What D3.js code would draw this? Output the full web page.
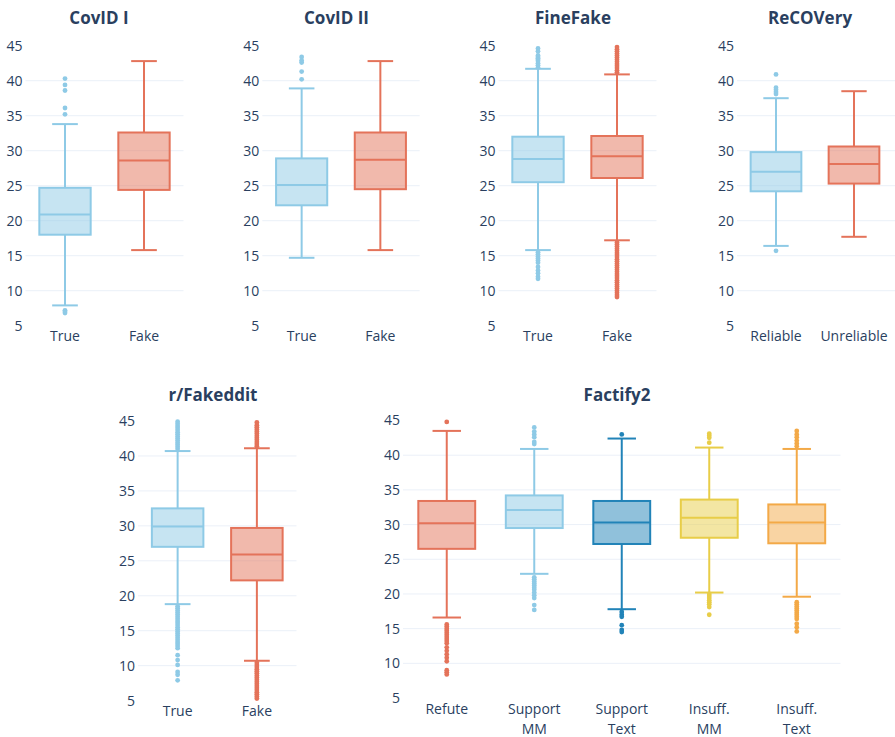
<!DOCTYPE html>
<html>
<head>
<meta charset="utf-8">
<script src="https://cdn.jsdelivr.net/npm/d3@7"></script>
<style>
  body { margin: 0; background: #fff; }
  svg { display: block; font-family: "Open Sans", sans-serif; }
</style>
</head>
<body>
<svg id="chart"></svg>
<script>
// tick labels for every y axis
const yTicks = [5, 10, 15, 20, 25, 30, 35, 40, 45];

// box stats: [lower whisker, q1, median, q3, upper whisker]
const covid1Cats = ["True", "Fake"];
const covid1Stats = [[7.9, 18.0, 20.9, 24.7, 33.8], [15.8, 24.4, 28.6, 32.6, 42.8]];
const covid1Outliers = [[35.2, 36.1, 38.6, 39.4, 40.3, 7.2, 7.0, 6.8], []];

const covid2Cats = ["True", "Fake"];
const covid2Stats = [[14.7, 22.2, 25.1, 28.9, 38.9], [15.8, 24.5, 28.7, 32.6, 42.8]];
const covid2Outliers = [[40.2, 41.3, 42.6, 42.9, 43.4], []];

const fineCats = ["True", "Fake"];
const fineStats = [[15.8, 25.5, 28.8, 32.0, 41.7], [17.2, 26.1, 29.2, 32.1, 40.9]];
const fineOutliers = [
  [41.9, 42.2, 42.5, 42.8, 43.0, 43.2, 43.4, 43.6, 44.2, 44.6,
   15.5, 15.2, 14.9, 14.6, 14.3, 14.0, 13.4, 12.9, 12.5, 12.0, 11.7],
  [41.2, 41.5, 41.8, 42.1, 42.4, 42.7, 43.0, 43.3, 43.6, 43.9, 44.2, 44.5, 44.8,
   16.9, 16.6, 16.3, 16.0, 15.7, 15.4, 15.1, 14.8, 14.5, 14.2, 13.9, 13.6, 13.3,
   13.0, 12.7, 12.4, 12.1, 11.8, 11.5, 11.2, 10.9, 10.6, 10.3, 10.0, 9.7, 9.4, 9.1]
];

const recoCats = ["Reliable", "Unreliable"];
const recoStats = [[16.4, 24.2, 27.0, 29.8, 37.5], [17.7, 25.3, 28.1, 30.6, 38.5]];
const recoOutliers = [[38.1, 38.4, 38.7, 39.0, 40.9, 15.7], []];

const fakedditCats = ["True", "Fake"];
const fakedditStats = [[18.8, 27.0, 29.9, 32.5, 40.7], [10.7, 22.2, 25.9, 29.7, 41.1]];
const fakedditOutliers = [
  [41.0, 41.3, 41.6, 41.9, 42.2, 42.5, 42.8, 43.1, 43.4, 43.7, 44.0, 44.3, 44.6, 44.9,
   18.5, 18.2, 17.9, 17.6, 17.3, 17.0, 16.7, 16.4, 16.1, 15.8, 15.5, 15.2, 14.9, 14.6,
   14.3, 14.0, 13.7, 13.4, 13.1, 12.8, 12.5, 11.5, 10.8, 10.1, 9.1, 8.7, 7.9],
  [41.4, 41.7, 42.0, 42.3, 42.6, 42.9, 43.2, 43.5, 43.8, 44.1, 44.4, 44.8,
   10.4, 10.1, 9.8, 9.5, 9.2, 8.9, 8.6, 8.3, 8.0, 7.7, 7.4, 7.1, 6.8, 6.5, 6.2,
   5.9, 5.6, 5.3]
];

const factifyCats = ["Refute", "Support MM", "Support Text", "Insuff. MM", "Insuff. Text"];
const factifyStats = [
  [16.6, 26.5, 30.2, 33.4, 43.5],
  [22.9, 29.5, 32.1, 34.2, 40.9],
  [17.8, 27.2, 30.3, 33.4, 42.4],
  [20.2, 28.1, 31.0, 33.6, 41.1],
  [19.6, 27.3, 30.3, 32.9, 40.9]
];
const factifyOutliers = [
  [44.8, 15.6, 15.3, 15.0, 14.7, 14.4, 14.1, 13.8, 13.5, 13.2, 12.9, 12.3, 11.8,
   11.3, 10.8, 10.3, 9.0, 8.7, 8.4],
  [41.6, 41.9, 42.6, 43.0, 43.4, 44.0, 22.4, 22.1, 21.8, 21.5, 21.2, 20.9, 20.6,
   20.2, 19.8, 19.4, 18.4, 17.7],
  [43.0, 17.4, 17.0, 16.7, 15.5, 14.8, 14.5],
  [41.8, 42.5, 42.8, 43.1, 20.0, 19.7, 19.4, 19.1, 18.8, 18.5, 18.1, 17.0],
  [41.3, 41.7, 42.1, 42.6, 43.0, 43.5, 18.8, 18.5, 18.2, 17.9, 17.6, 17.3, 17.0,
   16.7, 16.4, 15.7, 15.2, 14.6]
];

const lightBlue = "#8ecae6";
const red = "#e4735a";
const darkBlue = "#2183b8";
const yellow = "#e8cd48";
const orange = "#f3a947";

const width = 895;
const height = 737;
const textColor = "#2a3f5f";
const gridColor = "#ebf0f8";

const svg = d3.select("#chart").attr("width", width).attr("height", height);

const topRange = [325.7, 45.7];

const panels = [
  { title: "CovID I", titleX: 99, titleY: 24, cats: covid1Cats, stats: covid1Stats,
    outliers: covid1Outliers, colors: [lightBlue, red], x: [25.5, 183.5], y: topRange, labelY: 325.7 },
  { title: "CovID II", titleX: 336.5, titleY: 24, cats: covid2Cats, stats: covid2Stats,
    outliers: covid2Outliers, colors: [lightBlue, red], x: [262.3, 419.7], y: topRange, labelY: 325.7 },
  { title: "FineFake", titleX: 573, titleY: 24, cats: fineCats, stats: fineStats,
    outliers: fineOutliers, colors: [lightBlue, red], x: [498.5, 656.5], y: topRange, labelY: 325.7 },
  { title: "ReCOVery", titleX: 810, titleY: 24, cats: recoCats, stats: recoStats,
    outliers: recoOutliers, colors: [lightBlue, red], x: [737, 893], y: topRange, grid: [737, 895], labelY: 325.7 },
  { title: "r/Fakeddit", titleX: 213, titleY: 401, cats: fakedditCats, stats: fakedditStats,
    outliers: fakedditOutliers, colors: [lightBlue, red], x: [138, 296.5], y: [700.6, 421], labelY: 700.6 },
  { title: "Factify2", titleX: 617, titleY: 401, cats: factifyCats, stats: factifyStats,
    outliers: factifyOutliers, colors: [red, lightBlue, darkBlue, yellow, orange],
    x: [403, 840.5], y: [698, 420.5], labelY: 699.5 }
];

panels.forEach(drawPanel);

function drawPanel(p) {
  const g = svg.append("g");

  const xScale = d3.scaleBand().domain(p.cats).range(p.x).padding(0);
  const yScale = d3.scaleLinear().domain([5, 45]).range(p.y);

  const gridX = p.grid || p.x;

  // grid
  g.append("g")
    .selectAll("line")
    .data(yTicks.filter((d) => d > 5 && d < 45))
    .join("line")
    .attr("x1", gridX[0])
    .attr("x2", gridX[1])
    .attr("y1", (d) => yScale(d))
    .attr("y2", (d) => yScale(d))
    .attr("stroke", gridColor)
    .attr("stroke-width", 1);

  // y axis
  const yAxis = g.append("g")
    .attr("transform", `translate(${p.x[0]},0)`)
    .call(d3.axisLeft(yScale).tickValues(yTicks).tickSize(0).tickPadding(3));
  yAxis.select(".domain").remove();
  yAxis.selectAll("text")
    .attr("fill", textColor)
    .attr("font-size", 14)
    .attr("font-family", "Open Sans, sans-serif");

  // x axis
  const xAxis = g.append("g")
    .attr("transform", `translate(0,${p.labelY})`)
    .call(d3.axisBottom(xScale).tickSize(0).tickPadding(5));
  xAxis.select(".domain").remove();
  xAxis.selectAll("text")
    .attr("fill", textColor)
    .attr("font-size", 14)
    .attr("font-family", "Open Sans, sans-serif")
    .each(function (d) {
      const words = d.split(" ");
      if (words.length < 2) return;
      const t = d3.select(this);
      const y = +t.attr("y");
      t.text(null);
      words.forEach((w, i) => {
        t.append("tspan")
          .attr("x", 0)
          .attr("y", y + i * 20)
          .attr("dy", "0.71em")
          .text(w);
      });
    });

  // title
  g.append("text")
    .attr("x", p.titleX)
    .attr("y", p.titleY)
    .attr("text-anchor", "middle")
    .attr("font-size", 17)
    .attr("font-weight", "bold")
    .attr("fill", textColor)
    .text(p.title);

  const boxW = xScale.bandwidth() * 0.65;
  const capW = boxW * 0.5;

  p.cats.forEach((cat, i) => {
    const [lo, q1, med, q3, hi] = p.stats[i];
    const cx = xScale(cat) + xScale.bandwidth() / 2;
    const color = p.colors[i];
    const bg = g.append("g");

    // whiskers
    bg.append("line")
      .attr("x1", cx).attr("x2", cx)
      .attr("y1", yScale(q3)).attr("y2", yScale(hi))
      .attr("stroke", color).attr("stroke-width", 2);
    bg.append("line")
      .attr("x1", cx).attr("x2", cx)
      .attr("y1", yScale(q1)).attr("y2", yScale(lo))
      .attr("stroke", color).attr("stroke-width", 2);
    [lo, hi].forEach((v) => {
      bg.append("line")
        .attr("x1", cx - capW / 2).attr("x2", cx + capW / 2)
        .attr("y1", yScale(v)).attr("y2", yScale(v))
        .attr("stroke", color).attr("stroke-width", 2);
    });

    // box
    bg.append("rect")
      .attr("x", cx - boxW / 2)
      .attr("y", yScale(q3))
      .attr("width", boxW)
      .attr("height", yScale(q1) - yScale(q3))
      .attr("fill", color)
      .attr("fill-opacity", 0.5)
      .attr("stroke", color)
      .attr("stroke-width", 2);

    // median
    bg.append("line")
      .attr("x1", cx - boxW / 2).attr("x2", cx + boxW / 2)
      .attr("y1", yScale(med)).attr("y2", yScale(med))
      .attr("stroke", color).attr("stroke-width", 2);

    // outliers
    bg.selectAll("circle")
      .data(p.outliers[i])
      .join("circle")
      .attr("cx", cx)
      .attr("cy", (d) => yScale(d))
      .attr("r", 2.4)
      .attr("fill", color);
  });
}
</script>
</body>
</html>
